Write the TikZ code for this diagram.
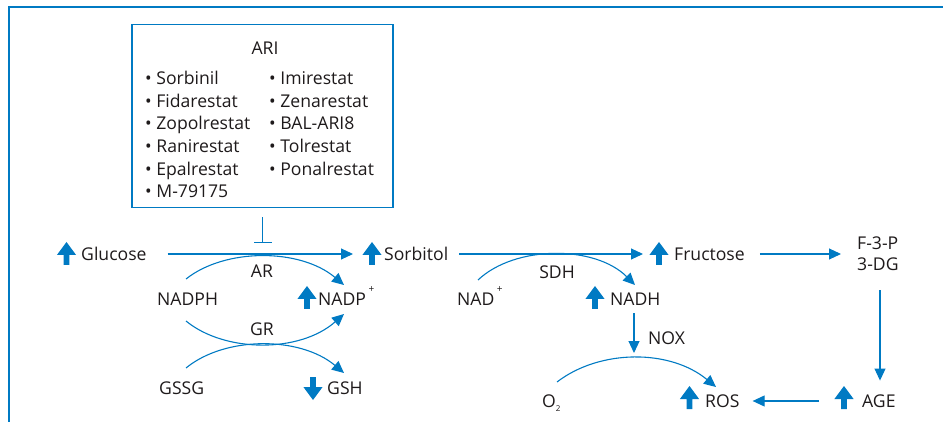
\documentclass[tikz,border=0pt]{standalone}
\usepackage{fontspec}
\setmainfont{Open Sans}
\usetikzlibrary{arrows.meta}
\definecolor{bl}{RGB}{0,122,195}
\definecolor{tx}{RGB}{30,26,27}
\newcommand{\supplus}{\kern2.5pt\raisebox{13pt}{\fontsize{10}{10}\selectfont +}}
\begin{document}
\begin{tikzpicture}[x=1pt,y=-1pt,
  every node/.style={inner sep=0pt, text=tx, font=\fontsize{17.6}{20}\selectfont},
  lbl/.style={anchor=west, text height=12.5pt, text depth=0pt},
  clbl/.style={anchor=center, text height=12.5pt, text depth=0pt},
  ln/.style={draw=bl, line width=1.1pt},
  arr/.style={ln, -{Triangle[length=12pt,width=11pt]}},
  upicon/.pic={\fill[bl] (-2.9,0) -- (2.9,0) -- (2.9,-10) -- (9.6,-10) -- (0,-23) -- (-9.6,-10) -- (-2.9,-10) -- cycle;},
  downicon/.pic={\fill[bl] (-2.9,0) -- (2.9,0) -- (2.9,10) -- (9.6,10) -- (0,23) -- (-9.6,10) -- (-2.9,10) -- cycle;}
]
\useasboundingbox (0,0) rectangle (943,422);
% outer frame
\draw[bl, line width=1.5pt] (9,422) -- (9,7) -- (943,7);

% ARI box
\node[draw=bl, line width=1.3pt, minimum width=261pt, minimum height=183pt] (ari) at (262.5,116) {};
\node[clbl] (aritit) at (265,48) {ARI};
\node[lbl] (l1) at (145,78) {• Sorbinil};
\node[lbl] (l2) at (145,101) {• Fidarestat};
\node[lbl] (l3) at (145,123.5) {• Zopolrestat};
\node[lbl] (l4) at (145,146) {• Ranirestat};
\node[lbl] (l5) at (145,169) {• Epalrestat};
\node[lbl] (l6) at (145,191.5) {• M-79175};
\node[lbl] (r1) at (269,78) {• Imirestat};
\node[lbl] (r2) at (269,101) {• Zenarestat};
\node[lbl] (r3) at (269,123.5) {• BAL-ARI8};
\node[lbl] (r4) at (269,146) {• Tolrestat};
\node[lbl] (r5) at (269,169) {• Ponalrestat};

% main nodes
\node[lbl] (glu) at (81,254) {Glucose};
\node[lbl] (sor) at (384,254) {Sorbitol};
\node[lbl] (fru) at (674,254) {Fructose};
\node[lbl] (f3p) at (857,243) {F-3-P};
\node[lbl] (dg) at (857,264) {3-DG};
\node[lbl] (age) at (862,401) {AGE};
\node[lbl] (ros) at (705,401) {ROS};
\node[lbl] (o2) at (542,401) {O\raisebox{-4pt}{\fontsize{8}{8}\selectfont 2}};
\node[lbl] (nadh) at (610,299) {NADH};
\node[lbl] (nad) at (457,299) {NAD\supplus};
\node[lbl] (nadph) at (157,299) {NADPH};
\node[lbl] (nadp) at (318,299) {NADP\supplus};
\node[lbl] (gssg) at (159,388) {GSSG};
\node[lbl] (gsh) at (327,388) {GSH};
\node[clbl] (ar) at (262,271) {AR};
\node[clbl] (gr) at (262,329) {GR};
\node[clbl] (sdh) at (557,272) {SDH};
\node[lbl] (nox) at (648,338) {NOX};

% icons
\pic at (66.5,265) {upicon};
\pic at (372,265) {upicon};
\pic at (659,265) {upicon};
\pic at (595,309) {upicon};
\pic at (307,309) {upicon};
\pic at (689.5,409) {upicon};
\pic at (844,409) {upicon};
\pic at (313,377) {downicon};

% inhibition
\coordinate (inh) at (262.5,243);
\draw[ln, shorten <=9pt, -{Bar[width=18pt,line width=1.1pt]}] (ari.south) -- (inh);

% main arrows
\draw[arr, shorten <=21pt, shorten >=31pt] (glu.east) -- (sor.west);
\draw[arr, shorten <=11pt, shorten >=31pt] (sor.east) -- (fru.west);
\draw[arr, shorten <=15pt, shorten >=16pt] (fru.east) -- (fru.east -| f3p.west);
\coordinate (dn) at (880,0);
\draw[arr, shorten <=20pt, shorten >=14pt] (dn |- dg.south) -- (dn |- age.north);
\draw[arr, shorten <=43pt, shorten >=13pt] (age.west) -- (ros.east);
\coordinate (noxend) at (634,353);
\draw[arr, shorten <=8pt] (nadh.south -| noxend) -- (noxend);

% curves
\coordinate (ar1) at (186,279); \coordinate (ar2) at (344,285);
\draw[arr] (ar1) .. controls (225,248) and (300,248) .. (ar2);
\coordinate (gr1) at (186,321); \coordinate (gr2) at (344,314);
\draw[arr] (gr1) .. controls (225,353) and (300,353) .. (gr2);
\coordinate (gs1) at (186,368); \coordinate (gs2) at (344,373);
\draw[arr] (gs1) .. controls (225,336) and (300,336) .. (gs2);
\coordinate (sd1) at (478,280); \coordinate (sd2) at (635,285);
\draw[arr] (sd1) .. controls (515,245) and (595,245) .. (sd2);
\coordinate (o21) at (557,382); \coordinate (o22) at (716,387);
\draw[arr] (o21) .. controls (600,349) and (670,349) .. (o22);
\end{tikzpicture}
\end{document}
